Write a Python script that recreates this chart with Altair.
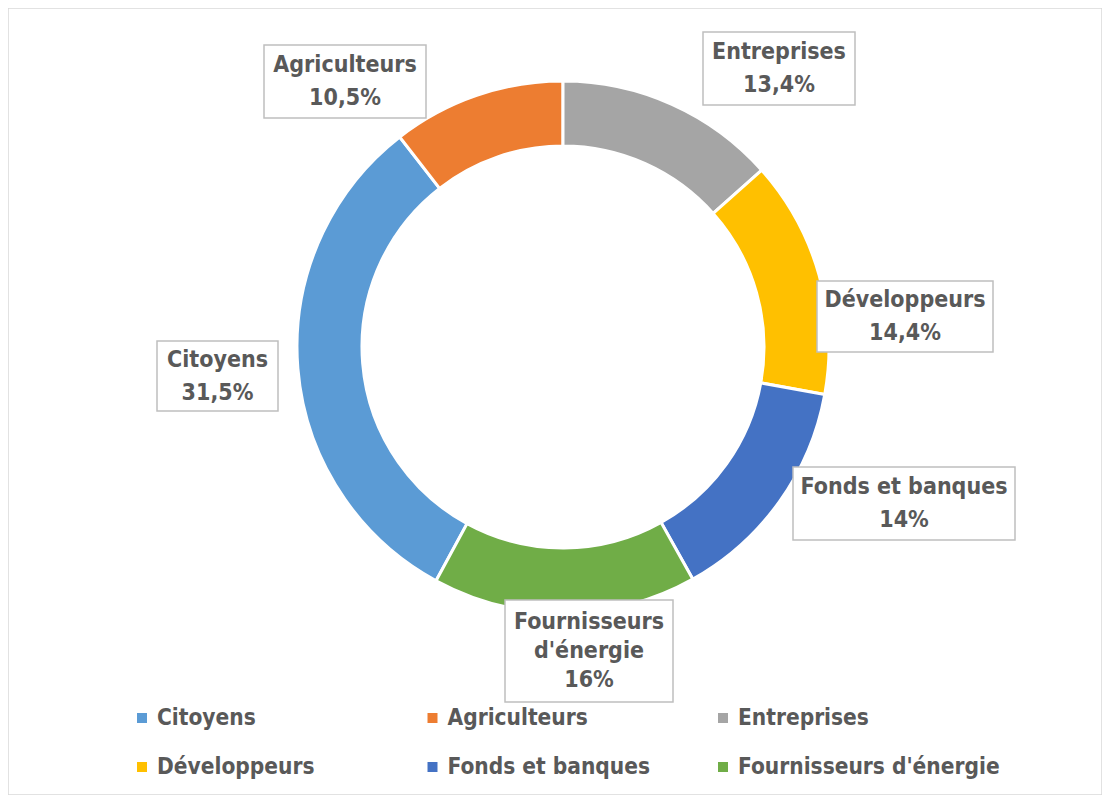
import math
import altair as alt
import pandas as pd

# ---- data (legend order) ----
categories = ["Citoyens", "Agriculteurs", "Entreprises", "Développeurs",
              "Fonds et banques", "Fournisseurs d'énergie"]
values = [31.5, 10.5, 13.4, 14.4, 14.0, 16.0]
colors = ["#5B9BD5", "#ED7D31", "#A5A5A5", "#FFC000", "#4472C4", "#70AD47"]

# ---- layout ----
W, H = 1094, 787
CX, CY = 555, 339
R_OUT, R_IN = 266, 201
FIRST_SLICE_ANGLE = 208.5  # degrees, like Excel's "angle of first slice"
label_cx = [209.5, 337, 771, 897, 896, 581]
label_cy = [368, 73.5, 60.5, 308.5, 495.5, 643]
box_w = [121, 162, 152, 176, 222, 168]
box_h = [70, 73, 73, 71, 73, 102]
LH2, LH3 = 33, 29
LEG_X0, LEG_DX = 134, 290.5
LEG_Y0, LEG_DY = 710, 49
FONT = "DejaVu Sans Condensed, DejaVu Sans, sans-serif"
TXT = "#595959"


def pct(v):
    return f"{v:g}".replace(".", ",") + "%"


df = pd.DataFrame({"name": categories, "value": values, "idx": list(range(len(categories)))})
df["label"] = [n.replace(" d'", "\nd'") + "\n" + pct(v) for n, v in zip(categories, values)]
df["nlines"] = [s.count("\n") + 1 for s in df["label"]]
df["lh"] = [LH3 if n == 3 else LH2 for n in df["nlines"]]
df["lx"] = label_cx
df["ly"] = [y - (n - 1) * lh / 2 for y, n, lh in zip(label_cy, df["nlines"], df["lh"])]
df["bx"] = [x - w / 2 for x, w in zip(label_cx, box_w)]
df["bx2"] = [x + w / 2 for x, w in zip(label_cx, box_w)]
df["by"] = [y - h / 2 for y, h in zip(label_cy, box_h)]
df["by2"] = [y + h / 2 for y, h in zip(label_cy, box_h)]
df["legx"] = [LEG_X0 + (i % 3) * LEG_DX for i in range(len(categories))]
df["legy"] = [LEG_Y0 + (i // 3) * LEG_DY for i in range(len(categories))]

a0 = math.radians(FIRST_SLICE_ANGLE)
color_scale = alt.Scale(domain=categories, range=colors)
xs = alt.Scale(domain=[0, W], nice=False, zero=False)
ys = alt.Scale(domain=[0, H], nice=False, zero=False, reverse=True)

base = alt.Chart(df)

arcs = base.mark_arc(innerRadius=R_IN, outerRadius=R_OUT, stroke="white", strokeWidth=3).encode(
    theta=alt.Theta("value:Q", stack=True,
                    scale=alt.Scale(domain=[0, sum(values)], range=[a0, a0 + 2 * math.pi], nice=False)),
    order=alt.Order("idx:Q"),
    color=alt.Color("name:N", scale=color_scale, legend=None),
    x=alt.value(CX),
    y=alt.value(CY),
)

boxes = base.mark_rect(fill="white", stroke="#BFBFBF", strokeWidth=1.5).encode(
    x=alt.X("bx:Q", scale=xs, axis=None),
    x2="bx2:Q",
    y=alt.Y("by:Q", scale=ys, axis=None),
    y2="by2:Q",
)

labels = base.mark_text(
    lineBreak="\n", font=FONT, fontSize=23, fontWeight="bold", color=TXT,
    align="center", baseline="middle",
    lineHeight=alt.ExprRef(expr=f"datum.nlines == 3 ? {LH3} : {LH2}"),
).encode(
    x=alt.X("lx:Q", scale=xs, axis=None),
    y=alt.Y("ly:Q", scale=ys, axis=None),
    text="label:N",
)

leg_sq = base.mark_square(size=100, opacity=1, filled=True).encode(
    x=alt.X("legx:Q", scale=xs, axis=None),
    y=alt.Y("legy:Q", scale=ys, axis=None),
    color=alt.Color("name:N", scale=color_scale, legend=None),
)

leg_txt = base.mark_text(
    font=FONT, fontSize=22.5, fontWeight="bold", color=TXT,
    align="left", baseline="middle", dx=15,
).encode(
    x=alt.X("legx:Q", scale=xs, axis=None),
    y=alt.Y("legy:Q", scale=ys, axis=None),
    text="name:N",
)

chart = alt.layer(arcs, boxes, labels, leg_sq, leg_txt).properties(
    width=W, height=H, padding=0, autosize=alt.AutoSizeParams(type="none"),
    background="white",
).configure_view(stroke="#D9D9D9", strokeWidth=1.5)

chart.save("out.html", embed_options={"renderer": "svg", "actions": False})
